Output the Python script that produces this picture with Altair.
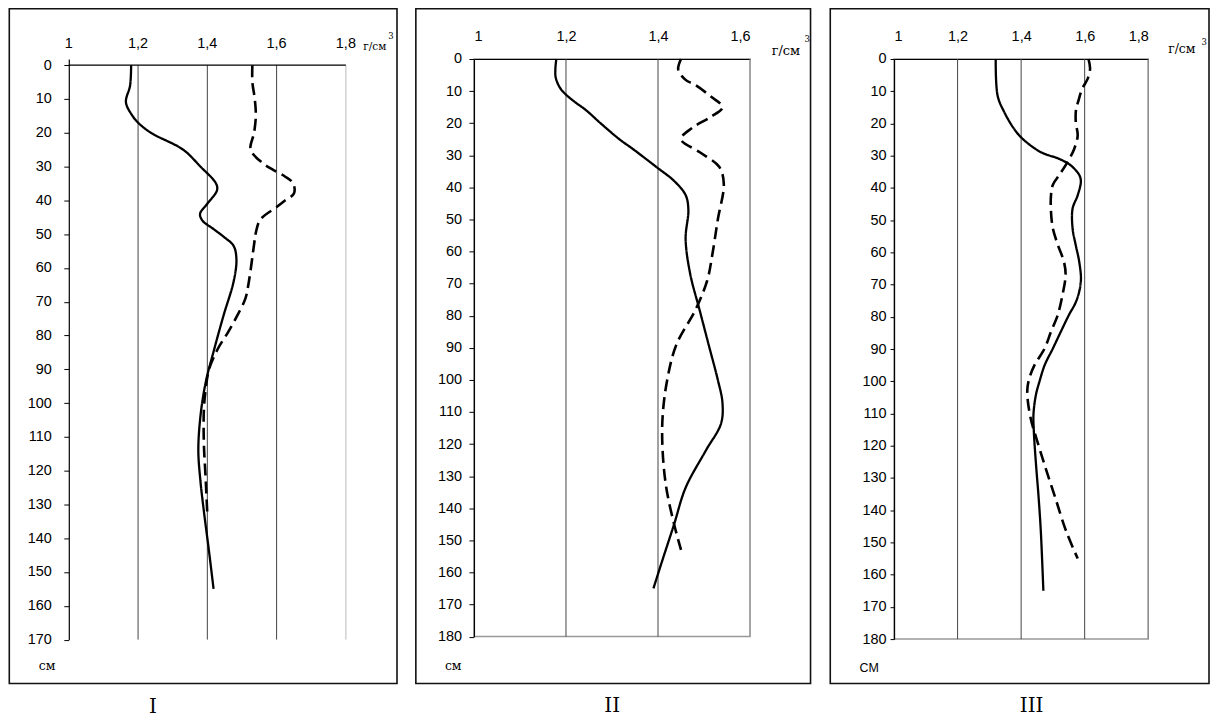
import altair as alt
import pandas as pd

# ---------------- data ----------------
# Panel I
p1_solid_depth = [0, 6, 11, 15, 17, 20, 25, 30, 35, 37, 41, 44, 46, 48.5, 51, 53.5, 57.5, 64, 74, 84, 94, 104, 114, 123, 132, 144, 155]
p1_solid_val = [1.18, 1.177, 1.165, 1.184, 1.20, 1.237, 1.33, 1.38, 1.425, 1.428, 1.40, 1.379, 1.386, 1.418, 1.45, 1.476, 1.484, 1.476, 1.447, 1.42, 1.395, 1.38, 1.374, 1.38, 1.39, 1.405, 1.418]
p1_dash_depth = [0, 5, 10, 15, 20, 25, 29, 31, 33, 35, 38, 40, 42, 45.7, 49.6, 53, 64, 69, 74, 79, 84, 90, 96, 102, 112, 122, 133]
p1_dash_val = [1.53, 1.53, 1.537, 1.54, 1.535, 1.525, 1.56, 1.59, 1.625, 1.648, 1.65, 1.625, 1.60, 1.553, 1.54, 1.535, 1.52, 1.51, 1.487, 1.46, 1.43, 1.405, 1.395, 1.39, 1.39, 1.395, 1.40]

# Panel II
p2_solid_depth = [0, 3, 6, 9.6, 12.8, 16, 20, 25, 28, 33.6, 38, 42.4, 47, 56, 67, 78, 89, 100, 107, 113.6, 122, 133.6, 145, 156, 165]
p2_solid_val = [1.179, 1.177, 1.178, 1.19, 1.214, 1.244, 1.275, 1.316, 1.345, 1.396, 1.435, 1.46, 1.466, 1.46, 1.47, 1.49, 1.51, 1.53, 1.54, 1.537, 1.504, 1.46, 1.435, 1.41, 1.39]
p2_dash_depth = [0, 3.4, 6.5, 8, 11.7, 15, 18, 21.4, 25, 29, 33.6, 39, 50, 61, 69, 78, 89, 100, 111.5, 122, 133.6, 145, 153]
p2_dash_val = [1.45, 1.444, 1.46, 1.48, 1.515, 1.54, 1.515, 1.475, 1.45, 1.49, 1.533, 1.543, 1.53, 1.518, 1.507, 1.482, 1.44, 1.42, 1.41, 1.41, 1.418, 1.435, 1.45]

# Panel III
p3_solid_depth = [0, 11.4, 16.5, 21.7, 24.8, 28.9, 31, 33, 36, 38, 42.3, 46.4, 52.6, 57.8, 63, 69, 75, 79.5, 84.6, 89.8, 95, 100, 104, 110, 115.6, 126, 136, 146.6, 165]
p3_solid_val = [1.32, 1.326, 1.347, 1.378, 1.405, 1.462, 1.52, 1.556, 1.583, 1.588, 1.578, 1.562, 1.562, 1.572, 1.583, 1.588, 1.574, 1.55, 1.525, 1.50, 1.474, 1.458, 1.447, 1.439, 1.44, 1.447, 1.455, 1.462, 1.47]
p3_dash_depth = [0, 3, 6, 9.3, 13.4, 15.5, 19.6, 23.7, 27.9, 32, 36, 39, 42.3, 47.4, 52.6, 57.8, 63, 67, 73.3, 79.5, 84.6, 89.8, 95, 99, 102, 105, 111.5, 117.7, 126, 136, 146.6, 155]
p3_dash_val = [1.612, 1.617, 1.61, 1.592, 1.579, 1.573, 1.572, 1.578, 1.567, 1.546, 1.52, 1.50, 1.494, 1.494, 1.50, 1.516, 1.535, 1.54, 1.53, 1.515, 1.494, 1.474, 1.442, 1.426, 1.42, 1.42, 1.43, 1.448, 1.474, 1.507, 1.542, 1.578]

x_ticks_18 = [1, 1.2, 1.4, 1.6, 1.8]
x_labels_18 = ["1", "1,2", "1,4", "1,6", "1,8"]
x_ticks_16 = [1, 1.2, 1.4, 1.6]
grid_18 = [1.2, 1.4, 1.6, 1.8]
grid_16 = [1.2, 1.4, 1.6]
y_ticks_170 = list(range(0, 171, 10))
y_ticks_180 = list(range(0, 181, 10))
unit_label = "г/см"
unit_sup = "3"
depth_label = ["см", "см", "СМ"]
panel_names = ["I", "II", "III"]

SANS = "Liberation Sans"
SERIF = "DejaVu Serif"
ROMAN = "DejaVu Serif"
LABEL_EXPR = "datum.value == 1 ? '1' : replace(format(datum.value, '.1f'), '.', ',')"


def make_panel(sd, sv, dd, dv, xmax, xticks, grid_vals, ymin, ymax, yticks, w, h,
               frame, ylab_pad, ytick, xlab_pad, manual_x, light_grid, light_col,
               unit_pos, unit_size, sup_pos, cm_pos, cm_text, cm_font, name_pos, name,
               view_stroke):
    df = pd.DataFrame({
        "depth": sd + dd,
        "value": sv + dv,
        "series": ["solid"] * len(sd) + ["dashed"] * len(dd),
    })
    xscale = alt.Scale(domain=[1, xmax], nice=False, zero=False)
    yscale = alt.Scale(domain=[ymin, ymax], reverse=True, nice=False, zero=False)
    if manual_x:
        xaxis = None
    else:
        xaxis = alt.Axis(orient="top", values=xticks, title=None,
                         labelExpr=LABEL_EXPR,
                         grid=False, domainColor="black", domainWidth=1.2,
                         tickSize=0, labelPadding=xlab_pad,
                         labelBaseline="alphabetic",
                         labelFont=SANS, labelFontSize=14.5, labelColor="black")
    yaxis = alt.Axis(values=yticks, title=None, grid=False,
                     tickSize=ytick, tickColor="black", domainColor="black",
                     domainWidth=1.2, labelPadding=ylab_pad,
                     labelFont=SANS, labelFontSize=14.5, labelColor="black")

    gdf = pd.DataFrame({"gx": grid_vals})
    grid = alt.Chart(gdf).mark_rule(strokeWidth=1).encode(
        x=alt.X("gx:Q", scale=xscale, axis=xaxis),
        y=alt.datum(0, scale=yscale, axis=yaxis),
        y2=alt.datum(ymax),
        color=alt.condition(f"datum.gx >= {light_grid}", alt.value(light_col), alt.value("#444444")),
    )
    lines = alt.Chart(df).mark_line(interpolate="catmull-rom", color="black").encode(
        x=alt.X("value:Q", scale=xscale, axis=xaxis),
        y=alt.Y("depth:Q", scale=yscale, axis=yaxis),
        strokeDash=alt.StrokeDash("series:N",
                                  scale=alt.Scale(domain=["solid", "dashed"], range=[[1, 0], [12, 6]]),
                                  legend=None),
        strokeWidth=alt.StrokeWidth("series:N",
                                    scale=alt.Scale(domain=["solid", "dashed"], range=[2.3, 2.6]),
                                    legend=None),
        order="depth:Q",
    )
    one = pd.DataFrame({"a": [0]})
    fr = alt.Chart(one).mark_rect(fillOpacity=0, stroke="#111111", strokeWidth=1.6).encode(
        x=alt.value(frame[0]), x2=alt.value(frame[1]),
        y=alt.value(frame[2]), y2=alt.value(frame[3]),
    )
    unit = alt.Chart(one).mark_text(font=SERIF, fontSize=unit_size, align="left", baseline="alphabetic",
                                    color="black").encode(
        x=alt.value(unit_pos[0]), y=alt.value(unit_pos[1]), text=alt.value(unit_label))
    sup = alt.Chart(one).mark_text(font=SERIF, fontSize=8.5, align="left", baseline="alphabetic",
                                   color="black").encode(
        x=alt.value(sup_pos[0]), y=alt.value(sup_pos[1]), text=alt.value(unit_sup))
    cm = alt.Chart(one).mark_text(font=cm_font, fontSize=12.5, align="center", baseline="middle",
                                  color="black").encode(
        x=alt.value(cm_pos[0]), y=alt.value(cm_pos[1]), text=alt.value(cm_text))
    nm = alt.Chart(one).mark_text(font=ROMAN, fontSize=20, align="center", baseline="middle",
                                  color="black").encode(
        x=alt.value(name_pos[0]), y=alt.value(name_pos[1]), text=alt.value(name))
    layers = [fr, grid, lines]
    if manual_x:
        tdf = pd.DataFrame({"t": xticks, "lab": x_labels_18[:len(xticks)]})
        top_line = alt.Chart(one).mark_rule(color="black", strokeWidth=1.2).encode(
            x=alt.datum(1, scale=xscale, axis=None), x2=alt.datum(xmax),
            y=alt.datum(0, scale=yscale, axis=yaxis),
        )
        top_labels = alt.Chart(tdf).mark_text(font=SANS, fontSize=14.5, align="center",
                                              baseline="alphabetic", dy=-xlab_pad,
                                              color="black").encode(
            x=alt.X("t:Q", scale=xscale, axis=None),
            y=alt.datum(0, scale=yscale, axis=yaxis),
            text="lab:N",
        )
        layers += [top_line, top_labels]
    layers += [unit, sup, cm, nm]
    layer = alt.layer(*layers).properties(width=w, height=h)
    if view_stroke:
        layer = layer.properties(view=alt.ViewBackground(stroke="#999999", strokeWidth=1.5))
    else:
        layer = layer.properties(view=alt.ViewBackground(stroke="transparent"))
    return layer


# common plot top; panel I's zero line sits 6.2 px lower
p1 = make_panel(p1_solid_depth, p1_solid_val, p1_dash_depth, p1_dash_val,
                1.8, x_ticks_18, grid_18, -1.83, 170, y_ticks_170, 278, 582.5,
                frame=(-59.7, 329.3, -50.5, 626.5), ylab_pad=12.5, ytick=5, xlab_pad=17.7,
                manual_x=True, light_grid=1.79, light_col="#bbbbbb",
                unit_pos=(295.5, -8.8), unit_size=10.5, sup_pos=(320.5, -20.5),
                cm_pos=(-21.7, 609.5), cm_text=depth_label[0], cm_font=SERIF,
                name_pos=(84.3, 650), name=panel_names[0], view_stroke=False)

p2 = make_panel(p2_solid_depth, p2_solid_val, p2_dash_depth, p2_dash_val,
                1.6, x_ticks_16, grid_16, 0, 180, y_ticks_180, 277, 579.5,
                frame=(-58.3, 337.7, -50.5, 626.5), ylab_pad=7.5, ytick=5, xlab_pad=19,
                manual_x=False, light_grid=1.59, light_col="#999999",
                unit_pos=(298.7, -4.5), unit_size=13, sup_pos=(331.7, -17.5),
                cm_pos=(-20.8, 609.5), cm_text=depth_label[1], cm_font=SERIF,
                name_pos=(138.7, 649), name=panel_names[1], view_stroke=True)

p3 = make_panel(p3_solid_depth, p3_solid_val, p3_dash_depth, p3_dash_val,
                1.8, x_ticks_18, grid_18, 0, 180, y_ticks_180, 255, 582,
                frame=(-64, 316, -50.5, 626.5), ylab_pad=4, ytick=4, xlab_pad=18.8,
                manual_x=False, light_grid=1.79, light_col="#888888",
                unit_pos=(275, -6.5), unit_size=12.5, sup_pos=(308.5, -14.5),
                cm_pos=(-25, 611.2), cm_text=depth_label[2], cm_font=SANS,
                name_pos=(138, 649), name=panel_names[2], view_stroke=True)

chart = alt.hconcat(p1, p2, p3, spacing=15.5).properties(
    padding={"top": -3, "left": 0, "right": 0, "bottom": 0}, background="white"
).configure_view(stroke="transparent")

chart.save("out.html", embed_options={"renderer": "svg", "actions": False})
